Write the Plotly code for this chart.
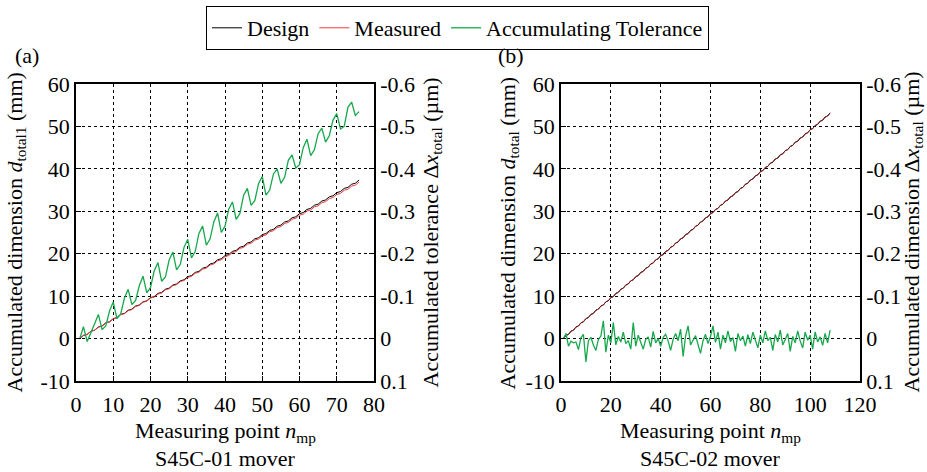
import plotly.graph_objects as go

# ---------------- data ----------------
n_a = list(range(1, 77))
design_a = [0, 0.74, 0.99, 1.73, 1.98, 2.72, 2.97, 3.71, 3.96, 4.70,
            4.95, 5.69, 5.94, 6.68, 6.93, 7.67, 7.92, 8.66, 8.91, 9.65,
            9.90, 10.64, 10.89, 11.63, 11.88, 12.62, 12.87, 13.61, 13.86, 14.60,
            14.85, 15.59, 15.84, 16.58, 16.83, 17.57, 17.82, 18.56, 18.81, 19.55,
            19.80, 20.54, 20.79, 21.53, 21.78, 22.52, 22.77, 23.51, 23.76, 24.50,
            24.75, 25.49, 25.74, 26.48, 26.73, 27.47, 27.72, 28.46, 28.71, 29.45,
            29.70, 30.44, 30.69, 31.43, 31.68, 32.42, 32.67, 33.41, 33.66, 34.40,
            34.65, 35.39, 35.64, 36.38, 36.63, 37.37]
measured_a = [0, 0.74, 0.98, 1.71, 1.95, 2.68, 2.93, 3.66, 3.90, 4.64,
              4.88, 5.62, 5.86, 6.59, 6.84, 7.57, 7.81, 8.55, 8.79, 9.53,
              9.77, 10.50, 10.75, 11.48, 11.73, 12.46, 12.70, 13.44, 13.68, 14.41,
              14.66, 15.39, 15.64, 16.37, 16.61, 17.35, 17.59, 18.33, 18.57, 19.31,
              19.55, 20.28, 20.53, 21.26, 21.50, 22.24, 22.48, 23.22, 23.46, 24.19,
              24.44, 25.17, 25.42, 26.15, 26.39, 27.13, 27.37, 28.11, 28.35, 29.09,
              29.33, 30.06, 30.31, 31.04, 31.28, 32.02, 32.26, 32.99, 33.24, 33.97,
              34.22, 34.95, 35.20, 35.93, 36.17, 36.90]
tol_a = [0.0, -0.028, 0.007, -0.012, -0.035, -0.057, -0.021, -0.030, -0.065, -0.086,
         -0.047, -0.058, -0.095, -0.116, -0.080, -0.090, -0.125, -0.147, -0.108, -0.120,
         -0.160, -0.179, -0.135, -0.145, -0.185, -0.204, -0.162, -0.175, -0.215, -0.234,
         -0.190, -0.205, -0.248, -0.265, -0.220, -0.235, -0.275, -0.296, -0.250, -0.265,
         -0.305, -0.322, -0.281, -0.295, -0.338, -0.354, -0.314, -0.325, -0.365, -0.382,
         -0.338, -0.350, -0.388, -0.400, -0.366, -0.380, -0.420, -0.433, -0.402, -0.410,
         -0.450, -0.470, -0.431, -0.445, -0.483, -0.496, -0.463, -0.478, -0.515, -0.530,
         -0.494, -0.500, -0.545, -0.557, -0.526, -0.535]

n_b = list(range(1, 109))
design_b = [0, 0.74, 0.99, 1.73, 1.98, 2.72, 2.97, 3.71, 3.96, 4.70,
            4.95, 5.69, 5.94, 6.68, 6.93, 7.67, 7.92, 8.66, 8.91, 9.65,
            9.90, 10.64, 10.89, 11.63, 11.88, 12.62, 12.87, 13.61, 13.86, 14.60,
            14.85, 15.59, 15.84, 16.58, 16.83, 17.57, 17.82, 18.56, 18.81, 19.55,
            19.80, 20.54, 20.79, 21.53, 21.78, 22.52, 22.77, 23.51, 23.76, 24.50,
            24.75, 25.49, 25.74, 26.48, 26.73, 27.47, 27.72, 28.46, 28.71, 29.45,
            29.70, 30.44, 30.69, 31.43, 31.68, 32.42, 32.67, 33.41, 33.66, 34.40,
            34.65, 35.39, 35.64, 36.38, 36.63, 37.37, 37.62, 38.36, 38.61, 39.35,
            39.60, 40.34, 40.59, 41.33, 41.58, 42.32, 42.57, 43.31, 43.56, 44.30,
            44.55, 45.29, 45.54, 46.28, 46.53, 47.27, 47.52, 48.26, 48.51, 49.25,
            49.50, 50.24, 50.49, 51.23, 51.48, 52.22, 52.47, 53.21]
measured_b = [0, 0.74, 0.99, 1.73, 1.98, 2.72, 2.97, 3.71, 3.96, 4.70,
              4.95, 5.69, 5.94, 6.68, 6.93, 7.67, 7.92, 8.66, 8.91, 9.65,
              9.90, 10.64, 10.89, 11.63, 11.88, 12.62, 12.87, 13.61, 13.86, 14.60,
              14.84, 15.58, 15.83, 16.57, 16.82, 17.56, 17.81, 18.55, 18.80, 19.54,
              19.79, 20.53, 20.78, 21.52, 21.77, 22.51, 22.76, 23.50, 23.75, 24.49,
              24.74, 25.48, 25.73, 26.47, 26.72, 27.46, 27.71, 28.45, 28.70, 29.44,
              29.68, 30.42, 30.67, 31.41, 31.66, 32.40, 32.65, 33.39, 33.64, 34.38,
              34.63, 35.37, 35.62, 36.36, 36.61, 37.35, 37.60, 38.34, 38.59, 39.33,
              39.58, 40.32, 40.57, 41.31, 41.56, 42.30, 42.55, 43.29, 43.54, 44.28,
              44.52, 45.26, 45.51, 46.25, 46.50, 47.24, 47.49, 48.23, 48.48, 49.22,
              49.47, 50.21, 50.46, 51.20, 51.45, 52.19, 52.44, 53.18]
tol_b = [0.0, -0.012, 0.018, 0.006, 0.010, 0.008, 0.026, -0.002, -0.010, 0.055,
         0.005, -0.003, 0.015, 0.028, 0.002, -0.006, -0.042, 0.032, -0.008, 0.010,
         -0.038, 0.015, -0.005, 0.008, -0.015, 0.012, 0.005, 0.025, -0.038, 0.018,
         -0.008, 0.009, 0.025, 0.002, -0.004, 0.020, -0.017, 0.010, 0.0, 0.018,
         -0.003, -0.010, 0.006, 0.028, 0.002, -0.012, 0.005, -0.022, 0.042, -0.006,
         -0.030, 0.015, 0.003, -0.007, 0.014, 0.035, 0.005, -0.010, 0.012, -0.005,
         -0.030, 0.009, -0.015, 0.025, -0.008, 0.010, -0.018, 0.007, -0.002, 0.030,
         -0.012, 0.005, -0.006, 0.018, -0.009, 0.012, -0.015, 0.003, 0.022, -0.008,
         0.010, -0.018, 0.005, -0.003, 0.028, -0.010, 0.008, -0.020, 0.015, 0.002,
         -0.012, 0.030, -0.005, 0.010, -0.018, 0.006, 0.022, -0.015, 0.004, -0.008,
         0.025, -0.016, 0.008, -0.004, 0.016, -0.012, 0.010, -0.020]

left_ticks = [-10, 0, 10, 20, 30, 40, 50, 60]
left_text = ["-10", "0", "10", "20", "30", "40", "50", "60"]
right_ticks = [0.1, 0, -0.1, -0.2, -0.3, -0.4, -0.5, -0.6]
right_text = ["0.1", "0", "-0.1", "-0.2", "-0.3", "-0.4", "-0.5", "-0.6"]
xa_ticks = [0, 10, 20, 30, 40, 50, 60, 70, 80]
xb_ticks = [0, 20, 40, 60, 80, 100, 120]

# ---------------- styling ----------------
FONT = "Liberation Serif, Times New Roman, serif"
FS = 22
BLACK = "#000000"
RED = "#ee3b3b"
GREEN = "#16a84c"

W, H = 927, 472
def px(x):
    return x / W
def py(y):
    return 1 - y / H

ax_top, ax_bot = 84, 381
dom_y = [py(ax_bot), py(ax_top)]
dom_xa = [px(76), px(374)]
dom_xb = [px(561), px(860)]

fig = go.Figure()

fig.add_trace(go.Scatter(x=n_a, y=design_a, mode="lines", name="Design",
                         line=dict(color=BLACK, width=1), xaxis="x", yaxis="y"))
fig.add_trace(go.Scatter(x=n_a, y=measured_a, mode="lines", name="Measured",
                         line=dict(color=RED, width=1), xaxis="x", yaxis="y"))
fig.add_trace(go.Scatter(x=n_a, y=tol_a, mode="lines", name="Accumulating Tolerance",
                         line=dict(color=GREEN, width=1.3), xaxis="x", yaxis="y2"))

fig.add_trace(go.Scatter(x=n_b, y=design_b, mode="lines", name="Design",
                         line=dict(color=BLACK, width=1), xaxis="x2", yaxis="y3",
                         showlegend=False))
fig.add_trace(go.Scatter(x=n_b, y=measured_b, mode="lines", name="Measured",
                         line=dict(color="#8a1a1a", width=1), xaxis="x2", yaxis="y3",
                         showlegend=False))
fig.add_trace(go.Scatter(x=n_b, y=tol_b, mode="lines", name="Accumulating Tolerance",
                         line=dict(color=GREEN, width=1.3), xaxis="x2", yaxis="y4",
                         showlegend=False))

grid = dict(showgrid=True, gridcolor=BLACK, griddash="dot", gridwidth=1, zeroline=False)
common = dict(showline=True, linecolor=BLACK, linewidth=1.5, ticks="inside",
              ticklen=5, tickcolor=BLACK, automargin=False,
              tickfont=dict(family=FONT, size=FS, color=BLACK))

fig.update_layout(
    width=W, height=H,
    margin=dict(l=0, r=0, t=0, b=0, autoexpand=False),
    paper_bgcolor="white", plot_bgcolor="white",
    font=dict(family=FONT, size=FS, color=BLACK),
    showlegend=True,
    legend=dict(orientation="h", x=px(206), xanchor="left", y=py(6), yanchor="top",
                bordercolor=BLACK, borderwidth=1, bgcolor="white",
                font=dict(family=FONT, size=FS, color=BLACK),
                itemwidth=30, tracegroupgap=0),
    xaxis=dict(domain=dom_xa, anchor="y", range=[0, 80], tickvals=xa_ticks,
               ticktext=[str(v) for v in xa_ticks], mirror=True,
               ticklabelstandoff=3, **grid, **common),
    yaxis=dict(domain=dom_y, anchor="x", range=[-10, 60], tickvals=left_ticks,
               ticktext=left_text, **grid, **common),
    yaxis2=dict(overlaying="y", anchor="x", side="right", range=[0.1, -0.6],
                tickvals=right_ticks, ticktext=right_text, showgrid=False,
                zeroline=False, **common),
    xaxis2=dict(domain=dom_xb, anchor="y3", range=[0, 120], tickvals=xb_ticks,
                ticktext=[str(v) for v in xb_ticks], mirror=True,
                ticklabelstandoff=3, **grid, **common),
    yaxis3=dict(domain=dom_y, anchor="x2", range=[-10, 60], tickvals=left_ticks,
                ticktext=left_text, **grid, **common),
    yaxis4=dict(overlaying="y3", anchor="x2", side="right", range=[0.1, -0.6],
                tickvals=right_ticks, ticktext=right_text, showgrid=False,
                zeroline=False, **common),
)

ann = []
def text(x, y, s, angle=0, xanchor="center"):
    ann.append(dict(x=x, y=y, xref="paper", yref="paper", text=s, showarrow=False,
                    textangle=angle, xanchor=xanchor, yanchor="middle",
                    font=dict(family=FONT, size=FS, color=BLACK)))

mid_y = py((ax_top + ax_bot) / 2)
text(px(15), mid_y, "Accumulated dimension <i>d</i><sub>total1</sub> (mm)", -90)
text(px(431), mid_y, "Accumulated tolerance Δ<i>x</i><sub>total</sub> (µm)", -90)
text(px(508), mid_y, "Accumulated dimension <i>d</i><sub>total</sub> (mm)", -90)
text(px(912), mid_y, "Accumulated dimension Δ<i>x</i><sub>total</sub> (µm)", -90)
text(px(225), py(432), "Measuring point <i>n</i><sub>mp</sub>")
text(px(710), py(432), "Measuring point <i>n</i><sub>mp</sub>")
text(px(225), py(458), "S45C-01 mover")
text(px(710), py(458), "S45C-02 mover")
text(px(13), py(55), "(a)", xanchor="left")
text(px(496), py(55), "(b)", xanchor="left")
fig.update_layout(annotations=ann)

fig.write_html("out.html")
